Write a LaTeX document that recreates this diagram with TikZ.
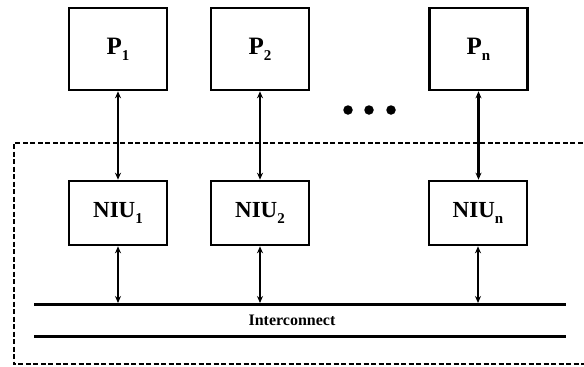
\documentclass[tikz,border=0pt]{standalone}
\usepackage{fontspec}
\setmainfont{Liberation Serif}
\usetikzlibrary{arrows.meta}
\newcommand{\sbs}[1]{\raisebox{-0.55ex}{\fontsize{15}{16}\selectfont #1}}
\begin{document}
\begin{tikzpicture}[x=1pt,y=-1pt,
  pbox/.style={draw,line width=2.6pt,minimum width=98pt,minimum height=82pt,inner sep=0pt,font=\fontsize{25}{27}\selectfont\bfseries},
  nbox/.style={draw,line width=2.6pt,minimum width=98pt,minimum height=64pt,inner sep=0pt,font=\fontsize{23}{25}\selectfont\bfseries},
  link/.style={line width=2.2pt,{Stealth[length=7pt,width=6pt]}-{Stealth[length=7pt,width=6pt]}},
  bus/.style={line width=3pt},
  frame/.style={line width=2pt,dash pattern=on 5pt off 2.5pt},
  dot/.style={circle,fill,inner sep=0pt,minimum size=9.5pt}]
\useasboundingbox (0,0) rectangle (584,367);
% dashed frame (right side runs off the picture)
\coordinate (fTR) at (590,143);
\coordinate (fBR) at (590,364);
\draw[frame] (fTR) -| (13.5,364) -- (fBR);
% processors
\node[pbox] (p1) at (118,49) {P\sbs{1}};
\node[pbox] (p2) at (260,49) {P\sbs{2}};
\node[pbox] (pn) at (478.5,49) {P\sbs{n}};
% dots
\node[dot] (d1) at (348,110) {};
\node[dot] (d2) at (369,110) {};
\node[dot] (d3) at (391,110) {};
% NIUs
\node[nbox] (n1) at (118,213) {NIU\sbs{1}};
\node[nbox] (n2) at (260,213) {NIU\sbs{2}};
\node[nbox] (nn) at (478,213) {NIU\sbs{n}};
% interconnect bus
\coordinate (busL) at (34,304.5);
\coordinate (busR) at (566,304.5);
\coordinate (busL2) at (34,336);
\coordinate (busR2) at (566,336);
\draw[bus] (busL) -- (busR);
\draw[bus] (busL2) -- (busR2);
\node[font=\fontsize{16}{18}\selectfont\bfseries] (ic) at (292,320) {Interconnect};
% taps on bus
\coordinate (t1) at (118,303);
\coordinate (t2) at (260,303);
\coordinate (tn) at (478,303);
% links
\draw[link] (p1.south) -- (n1.north);
\draw[link] (p2.south) -- (n2.north);
\draw[link] (pn.south) -- (pn.south |- nn.north);
\draw[link] (n1.south) -- (t1);
\draw[link] (n2.south) -- (t2);
\draw[link] (nn.south) -- (tn);
\end{tikzpicture}
\end{document}
